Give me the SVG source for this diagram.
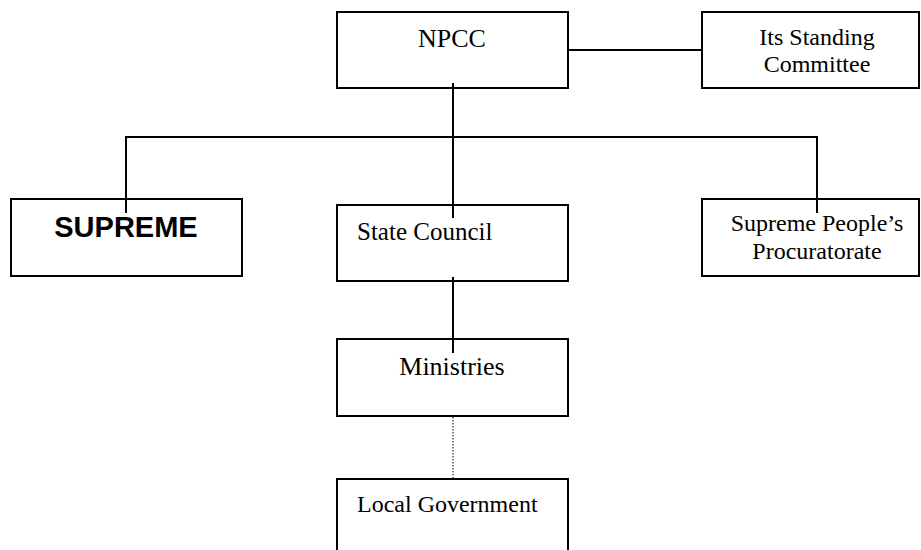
<svg xmlns="http://www.w3.org/2000/svg" width="921" height="550" viewBox="0 0 921 550">
<style>
.box{fill:#fff;stroke:#000;stroke-width:2}
.t{font-family:"Liberation Serif","Times New Roman",serif;fill:#000;font-size:24px}
.c{text-anchor:middle}
.ln{stroke:#000;stroke-width:2;fill:none}
.dot{stroke:#000;stroke-width:1;stroke-dasharray:1.5 1.5;fill:none}
</style>
<rect width="921" height="550" fill="#fff"/>
<g id="npcc"><rect class="box" x="337" y="12" width="231" height="76"/><text class="t c" x="452" y="47" style="font-size:26px">NPCC</text></g>
<g id="standing"><rect class="box" x="702" y="12" width="217" height="76"/><text class="t c" x="817" y="45">Its Standing</text><text class="t c" x="817" y="72">Committee</text></g>
<g id="supreme"><rect class="box" x="11" y="199" width="231" height="77"/><text x="126" y="237" text-anchor="middle" style="font-family:'Liberation Sans',Arial,sans-serif;font-weight:bold;font-size:29px">SUPREME</text></g>
<g id="state"><rect class="box" x="337" y="205" width="231" height="76"/><text class="t" x="357" y="240" style="font-size:25px">State Council</text></g>
<g id="procuratorate"><rect class="box" x="702" y="199" width="217" height="77"/><text class="t c" x="817" y="231">Supreme People’s</text><text class="t c" x="817" y="259">Procuratorate</text></g>
<g id="ministries"><rect class="box" x="337" y="339" width="231" height="77"/><text class="t c" x="452" y="375" style="font-size:26px">Ministries</text></g>
<g id="local"><rect class="box" x="337" y="479" width="231" height="80"/><text class="t" x="357" y="512">Local Government</text></g>
<g id="connectors">
<line class="ln" x1="568" y1="50" x2="702" y2="50"/>
<line class="ln" x1="453" y1="83" x2="453" y2="218"/>
<polyline class="ln" points="126,213 126,137 817,137 817,213"/>
<line class="ln" x1="453" y1="277" x2="453" y2="353"/>
<line class="dot" x1="453" y1="417" x2="453" y2="479"/>
</g>
</svg>
